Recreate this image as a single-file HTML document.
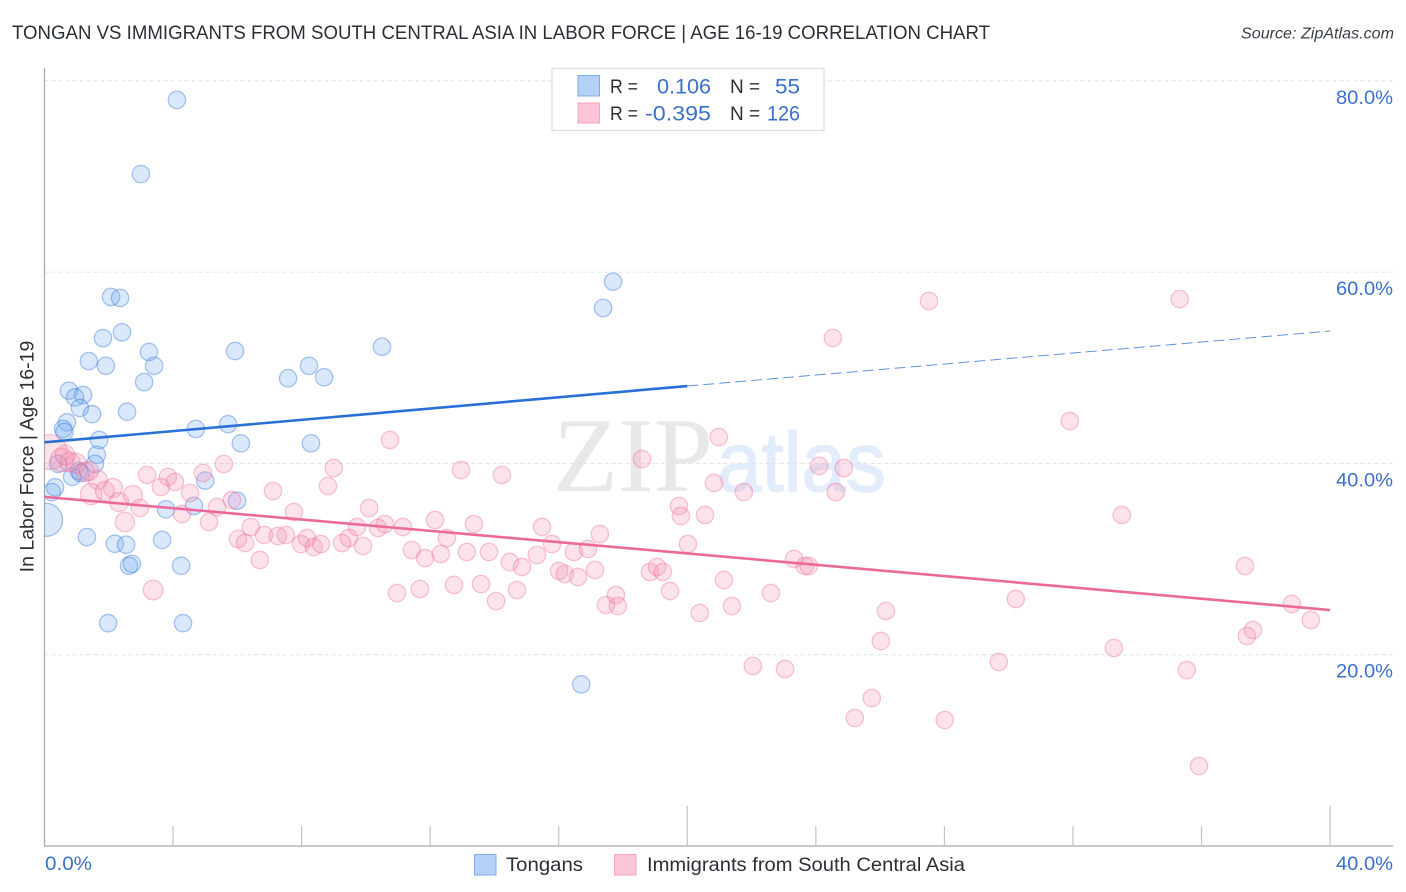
<!DOCTYPE html>
<html>
<head>
<meta charset="utf-8">
<title>Tongan vs Immigrants from South Central Asia in Labor Force</title>
<style>
html,body{margin:0;padding:0;background:#fff;width:1406px;height:892px;overflow:hidden}
svg{display:block}
text{font-family:"Liberation Sans",sans-serif}
#points{filter:blur(0.35px)}
</style>
</head>
<body>
<svg id="chart" width="1406" height="892" viewBox="0 0 1406 892" xmlns="http://www.w3.org/2000/svg">
  <defs><clipPath id="plot-clip"><rect x="44.5" y="60" width="1360" height="786"></rect></clipPath></defs>
  <text x="12" y="39" font-size="19.5" fill="#2b2f36" textLength="978" lengthAdjust="spacingAndGlyphs">TONGAN VS IMMIGRANTS FROM SOUTH CENTRAL ASIA IN LABOR FORCE | AGE 16-19 CORRELATION CHART</text>
  <text x="1241" y="38.5" font-size="15.5" font-style="italic" fill="#3a3f46" textLength="153" lengthAdjust="spacingAndGlyphs">Source: ZipAtlas.com</text>
  <g>
    <text x="553" y="491" font-size="106" fill="#e8e8e8" textLength="160" lengthAdjust="spacingAndGlyphs" style="font-family:'Liberation Serif',serif">ZIP</text>
    <text x="717" y="491" font-size="84" fill="#e2ecfa" stroke="#e2ecfa" stroke-width="1.2" textLength="169" lengthAdjust="spacingAndGlyphs">atlas</text>
  </g>
  <g id="grid"></g>
  <g id="axes"></g>
  <g id="points" clip-path="url(#plot-clip)"></g>
  <g id="trends"></g>
  <text transform="translate(33.5,456.5) rotate(-90)" font-size="19.5" fill="#2b2f36" text-anchor="middle">In Labor Force | Age 16-19</text>
  <g>
    <rect x="552" y="68.5" width="272" height="62" fill="#fff" stroke="#dcdcdc" stroke-width="1.2"></rect>
    <rect x="578" y="75.5" width="21.5" height="20.5" fill="#b5d1f7" stroke="#7fabe6" stroke-width="1"></rect>
    <rect x="578" y="103" width="21.5" height="20" fill="#fcc5d8" stroke="#f2a6bf" stroke-width="1"></rect>
    <text x="610" y="93" font-size="19" fill="#2b2f36" textLength="28" lengthAdjust="spacingAndGlyphs">R =</text>
    <text x="657" y="93.5" font-size="21" fill="#3a70cf" textLength="54" lengthAdjust="spacingAndGlyphs">0.106</text>
    <text x="730" y="93" font-size="19" fill="#2b2f36">N =</text>
    <text x="775" y="93.5" font-size="21" fill="#3a70cf" textLength="25" lengthAdjust="spacingAndGlyphs">55</text>
    <text x="610" y="120" font-size="19" fill="#2b2f36" textLength="28" lengthAdjust="spacingAndGlyphs">R =</text>
    <text x="645" y="120.5" font-size="21" fill="#3a70cf" textLength="66" lengthAdjust="spacingAndGlyphs">-0.395</text>
    <text x="730" y="120" font-size="19" fill="#2b2f36">N =</text>
    <text x="767" y="120.5" font-size="21" fill="#3a70cf" textLength="33" lengthAdjust="spacingAndGlyphs">126</text>
  </g>
  <g>
    <rect x="474.5" y="854.5" width="21.5" height="20.5" fill="#b5d1f7" stroke="#7fabe6" stroke-width="1"></rect>
    <text x="506" y="871" font-size="19.5" fill="#2b2f36" textLength="77" lengthAdjust="spacingAndGlyphs">Tongans</text>
    <rect x="614.5" y="854.5" width="21.5" height="20.5" fill="#fcc5d8" stroke="#f2a6bf" stroke-width="1"></rect>
    <text x="647" y="871" font-size="19.5" fill="#2b2f36" textLength="318" lengthAdjust="spacingAndGlyphs">Immigrants from South Central Asia</text>
  </g>
</svg>
<script>
var yTicks = [20, 40, 60, 80];
var xTicks = [0, 4, 8, 12, 16, 20, 24, 28, 32, 36, 40];
var xMajorTicks = [20, 40];
var xLabels = [0, 40];

var tonganX = [4.12,3.0,17.69,17.38,2.07,2.35,1.82,2.41,3.25,5.93,10.5,1.38,1.91,3.41,8.23,7.58,8.7,3.1,0.76,1.2,0.95,1.1,2.57,1.48,0.7,0.58,5.71,4.71,1.7,6.11,8.29,1.63,1.57,0.42,1.07,0.86,5.0,0.33,0.23,5.99,3.78,4.65,0.05,1.32,2.19,2.54,3.66,2.63,2.72,4.25,1.98,4.31,16.7,0.62,1.12];
var tonganY = [78.0,70.25,59.0,56.25,57.4,57.3,53.1,53.7,51.65,51.75,52.2,50.7,50.2,50.2,50.2,48.9,49.0,48.5,47.6,47.15,46.9,45.8,45.4,45.15,44.3,43.6,44.1,43.6,42.45,42.1,42.1,40.9,39.95,39.95,39.2,38.6,38.2,37.5,37.0,36.1,35.2,35.55,34.1,32.3,31.6,31.5,32.0,29.3,29.5,29.3,23.3,23.3,16.9,43.3,39.0];
var tonganWeight = {42: 3.6};

var immigrantX = [0.17,0.54,0.79,0.98,1.26,1.66,1.45,1.88,2.13,2.32,2.75,2.5,2.97,3.19,3.84,3.62,4.06,4.28,4.53,3.38,4.93,5.12,5.37,5.58,5.83,6.02,6.24,6.42,6.7,6.83,7.11,7.26,7.51,7.76,7.98,8.17,8.38,8.6,8.82,9.0,9.26,9.47,9.72,9.91,10.1,10.38,10.59,11.15,10.75,10.97,11.43,11.68,11.84,12.15,12.33,12.52,12.74,12.96,13.14,13.36,13.58,13.83,14.05,14.23,14.48,14.7,14.86,15.32,15.48,15.79,16.01,16.19,16.47,16.6,16.91,17.13,17.28,17.47,17.78,17.84,18.59,18.84,19.06,19.24,19.46,19.74,19.8,20.02,20.39,20.55,20.83,20.98,21.14,21.39,21.76,22.04,22.6,23.04,23.32,23.66,23.78,24.1,24.62,24.87,24.53,25.21,25.74,26.02,26.18,27.52,28.01,29.69,30.22,31.9,33.27,33.52,35.32,35.54,35.92,37.35,37.41,37.6,38.81,39.4,1.38,0.64];
var immigrantY = [41.19,40.36,40.15,40.04,39.1,38.27,36.8,37.11,37.43,35.96,36.7,33.87,35.34,38.79,38.58,37.53,38.06,34.71,36.91,26.76,39.0,33.87,35.44,39.94,36.17,32.1,31.68,33.35,29.9,32.52,37.11,32.41,32.52,34.92,31.57,32.2,31.26,31.57,37.64,39.52,31.68,32.2,33.35,31.37,35.34,33.25,33.66,33.35,42.45,26.45,30.95,26.87,30.11,34.08,30.53,32.2,27.29,39.31,30.74,33.66,27.39,30.74,25.61,38.79,29.69,26.76,29.17,30.42,33.35,31.57,28.75,28.44,30.74,28.12,31.05,28.86,32.62,25.2,26.24,25.09,40.46,28.65,29.17,28.65,26.66,35.55,34.5,31.57,24.36,34.61,37.95,42.76,27.81,25.09,37.01,18.82,26.45,18.51,30.01,29.27,29.27,39.73,37.01,39.52,53.11,13.38,15.47,21.43,24.57,56.98,13.17,19.24,25.82,44.43,20.7,34.61,57.19,18.4,8.36,29.27,21.96,22.58,25.3,23.63,39.21,40.88];
var immigrantWeight = {0: 4, 1: 1.8, 2: 1.3, 3: 1.3, 4: 1.2, 5: 1.2, 6: 1.5, 7: 1.2, 8: 1.2, 9: 1.2, 10: 1.2, 11: 1.25, 19: 1.3, 124: 1.2, 125: 1.3};

var tonganTrendX = [0, 20, 40];
var tonganTrendY = [42.2, 48.09, 53.84];
var immigrantTrendX = [0, 40];
var immigrantTrendY = [36.5, 24.67];

var NS = 'http://www.w3.org/2000/svg';
function px(v) { return 44.5 + v * 32.14; }
function py(v) { return 846 - v * 9.565; }
function make(tag, attrs, parent) {
  var el = document.createElementNS(NS, tag);
  for (var k in attrs) el.setAttribute(k, attrs[k]);
  parent.appendChild(el);
  return el;
}
var grid = document.getElementById('grid');
var axes = document.getElementById('axes');
var points = document.getElementById('points');
var trends = document.getElementById('trends');

yTicks.forEach(function (t) {
  var line = make('line', {x1: 44.5, x2: 1393, y1: py(t), y2: py(t), stroke: '#e2e2e2', 'stroke-width': 1, 'stroke-dasharray': '4 3'}, grid);
  
  
  var label = make('text', {x: 1393, y: py(t) + 23, 'font-size': 19.5, fill: '#3a70cf', 'text-anchor': 'end', textLength: 57, lengthAdjust: 'spacingAndGlyphs'}, axes);
  label.textContent = t.toFixed(1) + '%';
  
  
});

var yAxis = make('line', {x1: 44.5, x2: 44.5, y1: 68, y2: 846, stroke: '#a8a8a8', 'stroke-width': 1.2}, axes);


var xAxis = make('line', {x1: 44, x2: 1393, y1: 846, y2: 846, stroke: '#a8a8a8', 'stroke-width': 1.2}, axes);



xTicks.forEach(function (t) {
  if (t === 0) return;
  var top = xMajorTicks.indexOf(t) >= 0 ? 806 : 826;
  var tick = make('line', {x1: px(t), x2: px(t), y1: top, y2: 846, stroke: '#c4c4c4', 'stroke-width': 1.2}, axes);
  
  
});
xLabels.forEach(function (t) {
  var atEnd = t === 40;
  var label = make('text', {x: atEnd ? 1336 : 45, y: 870, 'font-size': 19.5, fill: '#3a70cf', textLength: atEnd ? 57 : 47, lengthAdjust: 'spacingAndGlyphs'}, axes);
  label.textContent = t.toFixed(1) + '%';
  
  
});

function radius(weights, i) { return 8.7 * Math.sqrt(weights[i] || 1); }

tonganX.forEach(function (v, i) {
  var c = make('circle', {cx: px(v), cy: py(tonganY[i]), r: radius(tonganWeight, i), fill: 'rgba(110,165,240,0.26)', stroke: 'rgba(50,115,215,0.4)', 'stroke-width': 1.3}, points);
  
  
});
immigrantX.forEach(function (v, i) {
  var c = make('circle', {cx: px(v), cy: py(immigrantY[i]), r: radius(immigrantWeight, i), fill: 'rgba(245,140,175,0.25)', stroke: 'rgba(232,100,145,0.36)', 'stroke-width': 1.3}, points);
  
  
});

var blueSolid = make('line', {x1: px(tonganTrendX[0]), y1: py(tonganTrendY[0]), x2: px(tonganTrendX[1]), y2: py(tonganTrendY[1]), stroke: '#2a70d6', 'stroke-width': 2.6}, trends);


var blueDash = make('line', {x1: px(tonganTrendX[1]), y1: py(tonganTrendY[1]), x2: px(tonganTrendX[2]), y2: py(tonganTrendY[2]), stroke: '#2a70d6', 'stroke-width': 1, 'stroke-opacity': 0.75, 'stroke-dasharray': '11 5'}, trends);


var pinkSolid = make('line', {x1: px(immigrantTrendX[0]), y1: py(immigrantTrendY[0]), x2: px(immigrantTrendX[1]), y2: py(immigrantTrendY[1]), stroke: '#ec6a9b', 'stroke-width': 2.6}, trends);


</script>
</body>
</html>
